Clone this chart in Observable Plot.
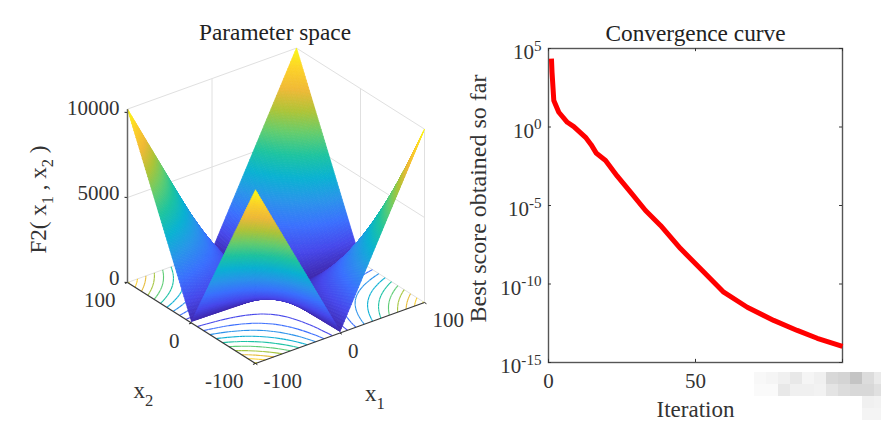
<!DOCTYPE html>
<html><head><meta charset="utf-8">
<style>html,body{margin:0;padding:0;background:#fff}#c{position:relative;width:881px;height:425px;overflow:hidden}#c svg{position:absolute;top:0;overflow:visible}</style>
<script src="https://cdn.jsdelivr.net/npm/d3@7"></script>
<script src="https://cdn.jsdelivr.net/npm/@observablehq/plot@0.6"></script>
</head><body><div id="c"></div>
<script>
// --- Parameter space data: F2 height read on the |x2| (rows) by |x1| (columns) lattice
const absLattice = [0,5,10,15,20,25,30,35,40,45,50,55,60,65,70,75,80,85,90,95,100];
const f2Rows = [
[0,5,10,15,20,25,30,35,40,45,50,55,60,65,70,75,80,85,90,95,100],
[5,35,65,95,125,155,185,215,245,275,305,335,365,395,425,455,485,515,545,575,605],
[10,65,120,175,230,285,340,395,450,505,560,615,670,725,780,835,890,945,1000,1055,1110],
[15,95,175,255,335,415,495,575,655,735,815,895,975,1055,1135,1215,1295,1375,1455,1535,1615],
[20,125,230,335,440,545,650,755,860,965,1070,1175,1280,1385,1490,1595,1700,1805,1910,2015,2120],
[25,155,285,415,545,675,805,935,1065,1195,1325,1455,1585,1715,1845,1975,2105,2235,2365,2495,2625],
[30,185,340,495,650,805,960,1115,1270,1425,1580,1735,1890,2045,2200,2355,2510,2665,2820,2975,3130],
[35,215,395,575,755,935,1115,1295,1475,1655,1835,2015,2195,2375,2555,2735,2915,3095,3275,3455,3635],
[40,245,450,655,860,1065,1270,1475,1680,1885,2090,2295,2500,2705,2910,3115,3320,3525,3730,3935,4140],
[45,275,505,735,965,1195,1425,1655,1885,2115,2345,2575,2805,3035,3265,3495,3725,3955,4185,4415,4645],
[50,305,560,815,1070,1325,1580,1835,2090,2345,2600,2855,3110,3365,3620,3875,4130,4385,4640,4895,5150],
[55,335,615,895,1175,1455,1735,2015,2295,2575,2855,3135,3415,3695,3975,4255,4535,4815,5095,5375,5655],
[60,365,670,975,1280,1585,1890,2195,2500,2805,3110,3415,3720,4025,4330,4635,4940,5245,5550,5855,6160],
[65,395,725,1055,1385,1715,2045,2375,2705,3035,3365,3695,4025,4355,4685,5015,5345,5675,6005,6335,6665],
[70,425,780,1135,1490,1845,2200,2555,2910,3265,3620,3975,4330,4685,5040,5395,5750,6105,6460,6815,7170],
[75,455,835,1215,1595,1975,2355,2735,3115,3495,3875,4255,4635,5015,5395,5775,6155,6535,6915,7295,7675],
[80,485,890,1295,1700,2105,2510,2915,3320,3725,4130,4535,4940,5345,5750,6155,6560,6965,7370,7775,8180],
[85,515,945,1375,1805,2235,2665,3095,3525,3955,4385,4815,5245,5675,6105,6535,6965,7395,7825,8255,8685],
[90,545,1000,1455,1910,2365,2820,3275,3730,4185,4640,5095,5550,6005,6460,6915,7370,7825,8280,8735,9190],
[95,575,1055,1535,2015,2495,2975,3455,3935,4415,4895,5375,5855,6335,6815,7295,7775,8255,8735,9215,9695],
[100,605,1110,1615,2120,2625,3130,3635,4140,4645,5150,5655,6160,6665,7170,7675,8180,8685,9190,9695,10200]
];
const contourLevels = [1000,2000,3000,4000,5000,6000,7000,8000,9000,10000];
const xTicks = [-100,0,100];
const zTicks = [0,5000,10000];
const zTop = 10200;
const parulaStops = [0,.1,.2,.3,.4,.5,.6,.7,.8,.9,1];
const parula = ["#3e26a8","#4748eb","#3b70fe","#2a94ea","#0ab2d2","#1ec4a0","#64cd6e","#afc437","#f0b937","#fdd228","#f9fb15"];

// --- Convergence curve data
const iterations = [1,1.2,1.8,3.5,6.4,8.6,12.6,14.5,16.3,19.4,23.4,27.9,33,38.1,44.9,52.3,59.6,67.6,76.6,84.6,91.4,100];
const bestScore = [2.3e4,3.1e3,49,8.7,2.0,1.07,0.22,0.075,0.021,0.0074,7.4e-4,7.1e-5,4.8e-6,5.4e-7,1.8e-8,7.2e-10,3.0e-11,3.3e-12,4.8e-13,1.1e-13,3.5e-14,1.05e-14];
const yTicks = [1e5,1,1e-5,1e-10,1e-15];
const iterTicks = [0,50];

// --- Pixelated patch over the lower right corner (grey levels by row)
const patchRows = [
 [248,245,240,232,245,240,216,212,196,220,234,244],
 [250,250,232,240,240,242,228,220,216,216,224,238],
 [255,255,255,255,255,255,255,255,255,240,242,244],
 [255,255,255,255,255,255,255,255,255,244,244,246]
];

const font = "'Liberation Serif','Times New Roman',serif";
const ink = "#333";

// oblique projection of the 3-D axes box onto the panel
const origin = {u:275.5, v:292};
function P(x1,x2,z){
  return [origin.u + x1*0.845 - x2*0.64, origin.v - x1*0.305 - x2*0.405 - z*0.0170];
}
const lat = [...absLattice.slice(1).reverse().map(d=>-d), ...absLattice];
// height on the table: exact lattice nodes, straight between them when a cell is drawn in finer shades
function H(x1,x2){
  const fa=Math.abs(x1)/5, fb=Math.abs(x2)/5;
  const a0=Math.min(Math.floor(fa),19), b0=Math.min(Math.floor(fb),19);
  const s=fa-a0,t=fb-b0;
  return (1-t)*((1-s)*f2Rows[b0][a0]+s*f2Rows[b0][a0+1])+t*((1-s)*f2Rows[b0+1][a0]+s*f2Rows[b0+1][a0+1]);
}
const shadesPerCell=3;
const fine=[];
for(let i=0;i<lat.length-1;i++) for(let k=0;k<shadesPerCell;k++) fine.push(lat[i]+(lat[i+1]-lat[i])*k/shadesPerCell);
fine.push(lat[lat.length-1]);

// surface polygons, back to front
const poly = [];
let pid = 0;
for (let i=fine.length-2;i>=0;i--) for (let j=fine.length-2;j>=0;j--){
  const c=[[fine[i],fine[j]],[fine[i+1],fine[j]],[fine[i+1],fine[j+1]],[fine[i],fine[j+1]],[fine[i],fine[j]]];
  const zs=c.map(d=>H(d[0],d[1]));
  const zm=d3.mean(zs.slice(0,4));
  c.forEach((d,q)=>{const p=P(d[0],d[1],zs[q]);poly.push({id:pid,u:p[0],v:p[1],z:zm});});
  pid++;
}
// contour segments on the floor via marching squares on the table
const seg=[];
for (const L of contourLevels) for (let i=0;i<lat.length-1;i++) for (let j=0;j<lat.length-1;j++){
  const c=[[lat[i],lat[j]],[lat[i+1],lat[j]],[lat[i+1],lat[j+1]],[lat[i],lat[j+1]]];
  const hit=[];
  for(let k=0;k<4;k++){const a=c[k],b=c[(k+1)%4],za=H(a[0],a[1]),zb=H(b[0],b[1]);
    if((za<L)!==(zb<L)){const t=(L-za)/(zb-za);hit.push(P(a[0]+t*(b[0]-a[0]),a[1]+t*(b[1]-a[1]),0));}}
  if(hit.length>=2) seg.push({a:hit[0],b:hit[1],L});
}
const link=(a,b,k={})=>({a,b,...k});
const walls=[
  ...[0,5000,zTop].flatMap(z=>[link(P(-100,100,z),P(100,100,z)),link(P(100,100,z),P(100,-100,z))]),
  link(P(0,100,0),P(0,100,zTop)),link(P(100,0,0),P(100,0,zTop)),link(P(100,-100,0),P(100,-100,zTop)),link(P(100,100,0),P(100,100,zTop))
];
const axes3=[link(P(-100,100,0),P(-100,-100,0)),link(P(-100,-100,0),P(100,-100,0))];
const ticks3=[
  ...xTicks.map(t=>link(P(-100,t,0),P(-103,t,0))),
  ...xTicks.map(t=>link(P(t,-100,0),P(t,-103,0))),
  ...zTicks.map(z=>link(P(-100,100,z),P(-102,102,z)))
];
const lk=(data,o)=>Plot.link(data,{x1:d=>d.a[0],y1:d=>d.a[1],x2:d=>d.b[0],y2:d=>d.b[1],...o});
const tx=(rows,o)=>Plot.text(rows,{x:d=>d.p[0],y:d=>d.p[1],text:"t",fontSize:21,fill:ink,...o});

const left = Plot.plot({
  width:460,height:425,margin:0,
  x:{domain:[0,460],range:[0,460],axis:null},
  y:{domain:[0,425],range:[0,425],axis:null},
  color:{type:"linear",domain:parulaStops.map(d=>d*zTop),range:parula},
  style:{fontFamily:font,background:"transparent"},
  marks:[
    lk(walls,{stroke:"#e0e0e0",strokeWidth:1}),
    lk(seg,{stroke:"L",strokeWidth:1.1}),
    lk(axes3,{stroke:"#3a3a3a",strokeWidth:1.3}),
    lk(ticks3,{stroke:"#222",strokeWidth:1}),
    Plot.line(poly,{x:"u",y:"v",z:"id",fill:"z",stroke:"z",strokeWidth:0.8,curve:"linear"}),
    lk([link(P(-100,100,0),P(-100,100,zTop))],{stroke:"#666",strokeWidth:1.5}),
    tx(zTicks.map(z=>({t:String(z),p:P(-100,100,z)})),{textAnchor:"end",dx:-8,dy:-4}),
    tx(xTicks.map(t=>({t:String(t),p:P(-100,t,0)})),{textAnchor:"end",dx:-12,dy:18}),
    tx(xTicks.map(t=>({t:String(t),p:P(t,-100,0)})),{textAnchor:"start",dx:8,dy:18}),
    tx([{t:"x_2",p:P(-100,0,0)}],{fontSize:23,dx:-48,dy:68}),
    tx([{t:"x_1",p:P(0,-100,0)}],{fontSize:23,dx:35,dy:61}),
    tx([{t:"F2( x_1 , x_2 )",p:P(-100,100,5000)}],{fontSize:23,rotate:-90,dx:-89,dy:2}),
    tx([{t:"Parameter space",p:P(0,100,zTop)}],{fontSize:23.3,fill:"#222",dx:63,dy:-46})
  ]
});
left.style.left="0px";

const right = Plot.plot({
  width:421,height:425,marginLeft:88,marginRight:39,marginTop:48,marginBottom:63,
  x:{domain:[0,100],axis:null},
  y:{type:"log",base:10,domain:[1e-15,1e5],axis:null},
  style:{fontFamily:font,background:"transparent"},
  marks:[
    Plot.frame({stroke:"#555",strokeWidth:1.4}),
    Plot.ruleY(yTicks,{x1:0,x2:1,stroke:"#333"}),
    Plot.ruleY(yTicks,{x1:99,x2:100,stroke:"#333"}),
    Plot.ruleX([...iterTicks,100],{y1:1e-15,y2:10**-14.8,stroke:"#333"}),
    Plot.ruleX([...iterTicks,100],{y1:10**4.8,y2:1e5,stroke:"#333"}),
    Plot.line(iterations,{x:d=>d,y:(d,i)=>bestScore[i],stroke:"#ff0000",strokeWidth:5,strokeLinejoin:"round",strokeLinecap:"butt",curve:"linear"}),
    Plot.axisY(yTicks,{anchor:"left",tickSize:0,tickPadding:7,dy:4,fontSize:21,fill:ink,tickFormat:d=>`10^${Math.round(Math.log10(d))}`,label:null}),
    Plot.axisX(iterTicks,{anchor:"bottom",tickSize:0,tickPadding:11,fontSize:21,fill:ink,label:null}),
    Plot.text(["Convergence curve"],{frameAnchor:"top",dy:-24,fontSize:23.3,fill:"#222"}),
    Plot.text(["Iteration"],{frameAnchor:"bottom",dy:54,fontSize:23,fill:ink}),
    Plot.text(["Best score obtained so far"],{frameAnchor:"left",textAnchor:"middle",rotate:-90,dx:-70,dy:-7,fontSize:24,fill:ink})
  ]
});
right.style.left="460px";

const patch = Plot.plot({
  width:144,height:48,margin:0,
  x:{type:"band",axis:null,padding:0},
  y:{type:"band",axis:null,padding:0},
  marks:[Plot.cell(patchRows.flatMap((r,i)=>r.map((g,j)=>({i,j,g}))),{x:"j",y:"i",fill:d=>`rgb(${d.g},${d.g},${d.g})`})]
});
patch.style.left="754px";patch.style.top="372px";

// sub/superscripts as real tspans
function rich(svg){
  svg.querySelectorAll("text").forEach(t=>{
    if(!/[\^_]/.test(t.textContent))return;
    const s=t.textContent;t.textContent="";
    const NS="http://www.w3.org/2000/svg";
    let dyNext=null;
    s.split(/([\^_]-?\d+)/).forEach(part=>{
      if(!part)return;
      const e=document.createElementNS(NS,"tspan");
      if(/^[\^_]/.test(part)){
        const up=part[0]==="^";
        e.textContent=part.slice(1);
        e.setAttribute("font-size","0.72em");
        e.setAttribute("dy",up?"-0.55em":"0.45em");
        dyNext=up?"0.4em":"-0.32em";
      }else{
        e.textContent=part;
        if(dyNext)e.setAttribute("dy",dyNext);
        dyNext=null;
      }
      t.appendChild(e);
    });
  });
}
const c=document.getElementById("c");
[left,right,patch].forEach(s=>{c.appendChild(s);rich(s);});
</script></body></html>
